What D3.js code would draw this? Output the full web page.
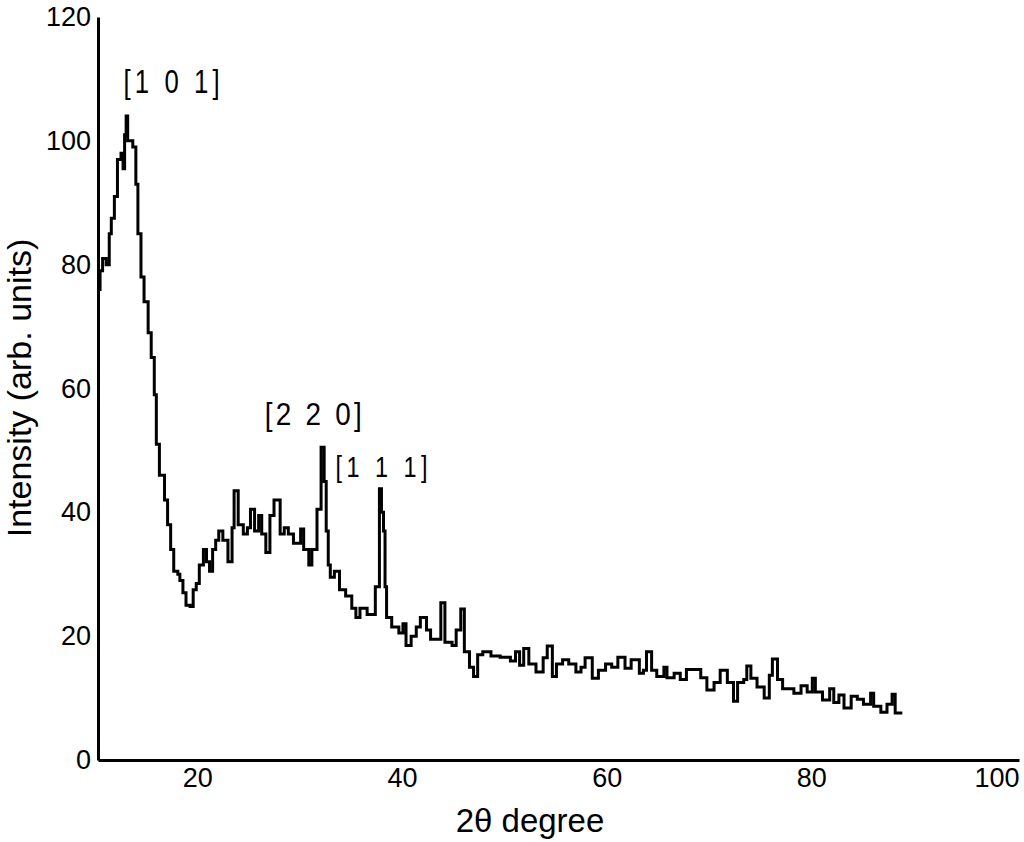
<!DOCTYPE html>
<html>
<head>
<meta charset="utf-8">
<script src="https://cdn.jsdelivr.net/npm/d3@7"></script>
<style>
  html, body { margin: 0; padding: 0; background: #fff; }
  svg { display: block; font-family: "Liberation Sans", Arial, Helvetica, sans-serif; }
</style>
</head>
<body>
<svg id="chart" width="1024" height="842"></svg>
<script>
// 2θ positions (degrees) and intensity readings (arb. units), step-wise trace
const twoTheta = [
  10.0, 10.2, 10.45, 10.8, 11.1, 11.3, 11.6, 11.9, 12.25, 12.45, 12.6, 12.75, 12.9, 13.4, 13.7, 13.9,
  14.2, 14.5, 14.9, 15.2, 15.5, 15.7, 16.0, 16.5, 16.8, 17.1, 17.4, 17.8, 18.0, 18.3, 18.6, 19.0,
  19.3, 19.6, 19.9, 20.3, 20.6, 20.9, 21.2, 21.5, 21.8, 22.2, 22.7, 23.1, 23.3, 23.7, 24.2, 24.6,
  24.9, 25.3, 25.7, 26.0, 26.4, 26.8, 27.2, 27.8, 28.2, 28.6, 29.1, 29.8, 30.1, 30.6, 30.9, 31.4,
  31.8, 32.1, 32.3, 32.5, 32.7, 33.1, 33.6, 34.2, 34.8, 35.2, 35.6, 36.3, 37.1, 37.5, 37.7, 37.9,
  38.05, 38.2, 38.7, 39.4, 39.8, 40.1, 40.6, 41.1, 41.5, 42.1, 42.5, 43.5, 43.9, 44.6, 45.0, 45.45,
  45.8, 46.3, 46.7, 47.1, 47.6, 48.4, 49.3, 50.3, 50.8, 51.2, 51.6, 52.1, 52.8, 53.5, 53.9, 54.4,
  54.8, 55.4, 56.0, 56.7, 57.2, 57.6, 58.3, 58.9, 59.6, 60.2, 60.8, 61.5, 62.1, 62.9, 63.3, 63.6,
  64.1, 64.6, 65.3, 65.6, 66.3, 66.9, 67.5, 68.9, 69.5, 70.2, 70.8, 71.5, 72.1, 72.5, 73.1, 73.4,
  73.8, 74.4, 75.1, 75.6, 75.9, 76.4, 76.9, 78.0, 78.7, 79.3, 79.8, 80.1, 80.8, 81.5, 81.9, 82.4,
  82.9, 83.6, 84.2, 84.8, 85.5, 85.8, 86.5, 87.1, 87.6, 87.9, 88.6
];
const intensity = [
  76, 79, 81, 80, 85, 87.5, 91, 97, 98, 95.5, 101, 104, 100, 99, 93, 85,
  78, 74, 69, 65, 59, 51, 46, 42, 38, 34, 30.5, 30, 29, 27, 25, 24.8,
  27.5, 28.5, 31.5, 34, 32, 30.5, 34, 35.5, 37, 35.5, 32, 37.5, 43.5, 38, 36.5, 37.5,
  40.5, 37, 39.5, 36.5, 33.5, 39.5, 42, 36.5, 37.5, 36.5, 35, 37.3, 34, 31.5, 34, 40.5,
  50.5, 45, 37, 31.5, 29.5, 30.5, 27.5, 26.5, 24.5, 23, 24.5, 23.5, 28, 43.8, 40, 37,
  28, 23, 21.5, 20.5, 22, 18.5, 20, 21.5, 23, 21, 19.5, 25.4, 19, 18.5, 21, 24.4,
  17.5, 15, 13.5, 17, 17.5, 16.8, 16.6, 16, 17.5, 15.3, 18, 15.5, 14.2, 16.5, 18.4, 13.5,
  15.5, 16.2, 15.5, 14.2, 15, 16.5, 13.2, 14.5, 15.5, 15, 16.6, 14.8, 16.2, 14, 14.5, 17.5,
  14.5, 13.5, 15, 13.3, 14, 13, 14.6, 13.3, 11.3, 12.5, 14.5, 12.5, 9.5, 12.5, 13, 15.2,
  13.2, 11.8, 10, 13.7, 16.3, 13, 11.5, 10.8, 12, 11, 13.2, 11, 9.7, 11.5, 9.3, 10.5,
  8.4, 10.3, 9.8, 9, 10.8, 8.7, 7.7, 9, 10.6, 7.6, 7.6
];
const xTicks = [20, 40, 60, 80, 100];
const yTicks = [0, 20, 40, 60, 80, 100, 120];
const peakLabels = ["[1 0 1]", "[2 2 0]", "[1 1 1]"];
const peakPos = [[12.5, 107.8], [26.3, 54.1], [33.2, 45.7]];

const svg = d3.select("#chart");
const x = d3.scaleLinear().domain([10, 100]).range([98, 1019]);
const y = d3.scaleLinear().domain([0, 120]).range([760, 17]);

const data = twoTheta.map((t, i) => ({ t, v: intensity[i] }));

// trace
svg.append("path")
  .datum(data)
  .attr("fill", "none")
  .attr("stroke", "#000")
  .attr("stroke-width", 3)
  .attr("stroke-linejoin", "miter")
  .attr("d", d3.line().x(d => x(d.t)).y(d => y(d.v)).curve(d3.curveStepAfter));

// axes
const xAxis = svg.append("g")
  .attr("transform", `translate(0,${y(0)})`)
  .call(d3.axisBottom(x).tickValues(xTicks).tickSize(0).tickSizeOuter(0).tickPadding(8));
xAxis.select(".domain").attr("stroke", "#000").attr("stroke-width", 3);
xAxis.selectAll("text").attr("font-size", 27).attr("fill", "#000")
  .attr("font-family", "Liberation Sans, Arial, sans-serif")
  .attr("dx", -3);
xAxis.selectAll(".tick").filter(d => d === 100).select("text")
  .attr("text-anchor", "end").attr("dx", 0);

const yAxis = svg.append("g")
  .attr("transform", `translate(${x(10)},0)`)
  .call(d3.axisLeft(y).tickValues(yTicks).tickSize(0).tickSizeOuter(0).tickPadding(7));
yAxis.select(".domain").attr("stroke", "#000").attr("stroke-width", 3);
yAxis.selectAll("text").attr("font-size", 27).attr("fill", "#000")
  .attr("font-family", "Liberation Sans, Arial, sans-serif");

// axis titles
svg.append("text")
  .attr("x", 530).attr("y", 832)
  .attr("text-anchor", "middle")
  .attr("font-size", 33)
  .text("2θ degree");

svg.append("text")
  .attr("transform", "translate(31,388) rotate(-90)")
  .attr("text-anchor", "middle")
  .attr("font-size", 34)
  .text("Intensity (arb. units)");

// peak labels
const labelStyle = [
  { size: 33, sx: 0.78, width: 96 },
  { size: 31, sx: 0.9, width: 97 },
  { size: 30, sx: 0.78, width: 92 }
];
peakLabels.forEach((lab, i) => {
  const st = labelStyle[i];
  svg.append("text")
    .attr("transform", `translate(${x(peakPos[i][0])},${y(peakPos[i][1])}) scale(${st.sx},1)`)
    .attr("font-size", st.size)
    .attr("textLength", st.width / st.sx)
    .attr("lengthAdjust", "spacing")
    .text(lab);
});
</script>
</body>
</html>
